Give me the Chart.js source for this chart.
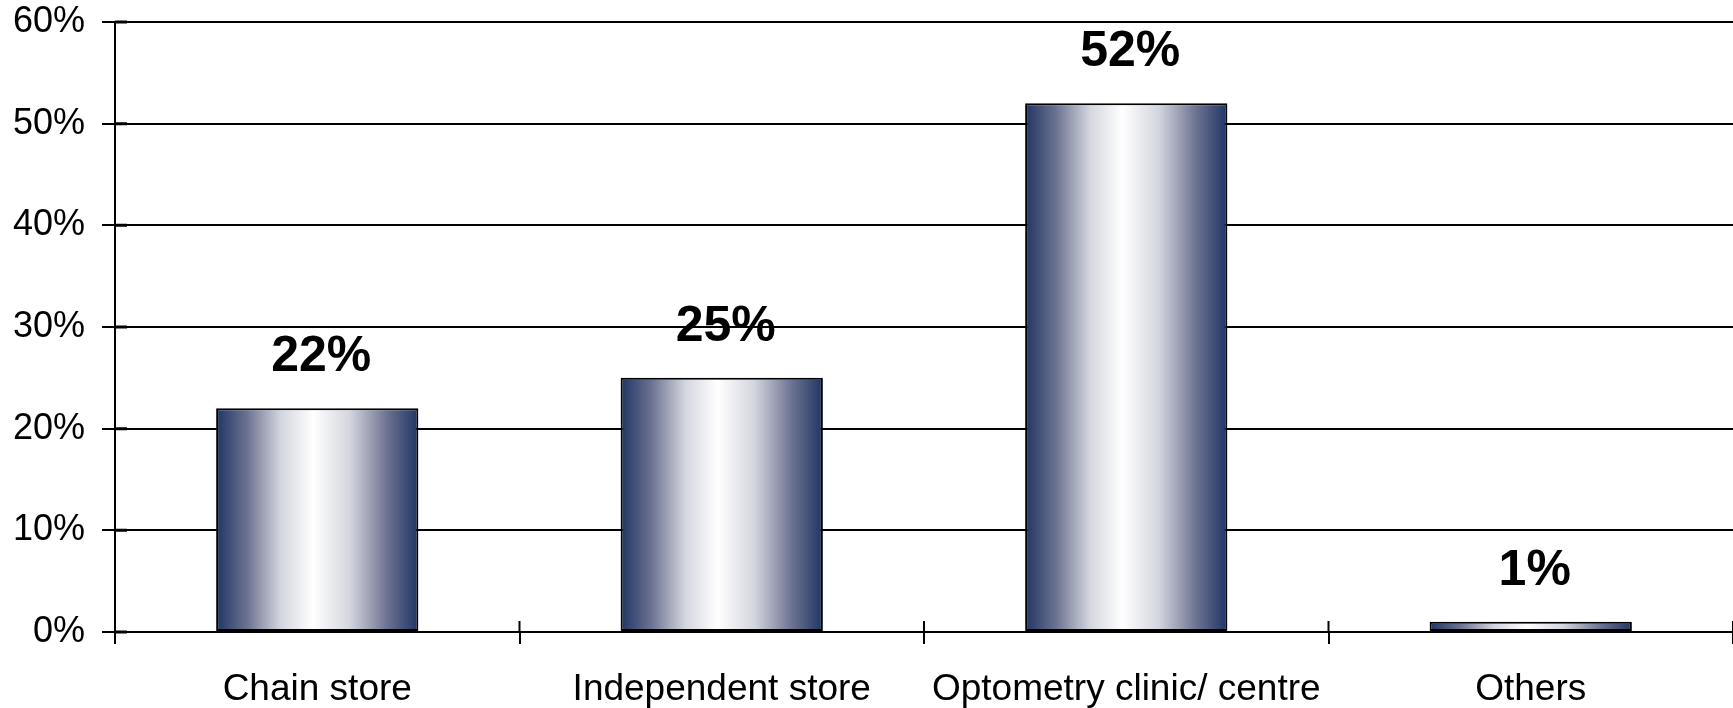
<!DOCTYPE html>
<html>
<head>
<meta charset="utf-8">
<script src="https://cdn.jsdelivr.net/npm/chart.js@4.4.1/dist/chart.umd.min.js"></script>
<style>
  html, body { margin: 0; padding: 0; background: #fff; }
  #wrap { width: 1733px; height: 708px; }
</style>
</head>
<body>
<div id="wrap"><canvas id="channelChart"></canvas></div>
<script>
const categories = ["Chain store", "Independent store", "Optometry clinic/ centre", "Others"];
const shares = [22, 25, 52, 1];
const yTicks = [0, 10, 20, 30, 40, 50, 60];

const barDark = "#1f3564";

// bar gradient, built for each bar from the x scale
function barFill(ctx) {
    const chart = ctx.chart;
    if (!chart.chartArea) return barDark;
    const xs = chart.scales.x;
    const cx = xs.getPixelForValue(ctx.dataIndex);
    const half = xs.width / categories.length * 0.25;
    const g = chart.ctx.createLinearGradient(cx - half, 0, cx + half, 0);
    g.addColorStop(0, barDark);
    g.addColorStop(0.15, "#6a7190");
    g.addColorStop(0.32, "#d4d6de");
    g.addColorStop(0.48, "#ffffff");
    g.addColorStop(0.66, "#d4d6de");
    g.addColorStop(0.85, "#6a7190");
    g.addColorStop(1, barDark);
    return g;
}

// value labels above the bars
const valueLabels = {
    id: "valueLabels",
    afterDatasetsDraw(chart) {
        const c = chart.ctx;
        const meta = chart.getDatasetMeta(0);
        c.save();
        c.font = "bold 50px 'Liberation Sans', Arial, sans-serif";
        c.fillStyle = "#000";
        c.textAlign = "center";
        c.textBaseline = "alphabetic";
        meta.data.forEach((bar, i) => {
            c.fillText(shares[i] + "%", bar.x + 4, bar.y - 37);
        });
        c.restore();
    }
};

// tick marks that cross the axes (Chart.js only draws the outer half)
const crossTicks = {
    id: "crossTicks",
    afterDraw(chart) {
        const c = chart.ctx;
        const xs = chart.scales.x;
        const ys = chart.scales.y;
        const y0 = ys.getPixelForValue(0);
        const x0 = xs.left;
        c.save();
        c.strokeStyle = "#000";
        c.lineWidth = 2;
        c.beginPath();
        for (let i = 0; i <= categories.length; i++) {
            const x = xs.getPixelForValue(i - 0.5);
            c.moveTo(x, y0);
            c.lineTo(x, y0 - 11);
        }
        c.stroke();
        c.lineWidth = 3;
        c.beginPath();
        yTicks.forEach(v => {
            const y = ys.getPixelForValue(v);
            c.moveTo(x0, y);
            c.lineTo(x0 + 12, y);
        });
        c.stroke();
        c.restore();
    }
};

new Chart(document.getElementById("channelChart").getContext("2d"), {
    type: "bar",
    data: {
        labels: categories,
        datasets: [{
            data: shares,
            backgroundColor: barFill,
            borderColor: "#000",
            borderWidth: 2,
            borderSkipped: false,
            barPercentage: 0.5,
            categoryPercentage: 1.0
        }]
    },
    options: {
        responsive: true,
        maintainAspectRatio: false,
        animation: false,
        layout: { padding: { top: 22, right: 0, left: 0, bottom: 0 } },
        plugins: {
            legend: { display: false },
            tooltip: { enabled: false }
        },
        scales: {
            x: {
                grid: {
                    offset: true,
                    drawOnChartArea: false,
                    drawTicks: true,
                    tickLength: 12,
                    color: "#000",
                    lineWidth: 2
                },
                border: { color: "#000", width: 2 },
                ticks: {
                    color: "#000",
                    autoSkip: false,
                    maxRotation: 0,
                    padding: 24,
                    font: { family: "'Liberation Sans', Arial, sans-serif", size: 37 }
                },
                afterFit(scale) {
                    scale.height = 76;
                    scale.paddingLeft = 0;
                    scale.paddingRight = 0;
                }
            },
            y: {
                min: 0,
                max: 60,
                afterBuildTicks(scale) {
                    scale.ticks = yTicks.map(v => ({ value: v }));
                },
                grid: {
                    color: "#000",
                    lineWidth: 2,
                    tickLength: 13
                },
                border: { color: "#000", width: 2 },
                ticks: {
                    color: "#000",
                    padding: 17,
                    callback: v => v + "%",
                    font: { family: "'Liberation Sans', Arial, sans-serif", size: 36 }
                },
                afterFit(scale) {
                    scale.width = 115;
                    scale.paddingTop = 0;
                    scale.paddingBottom = 0;
                }
            }
        }
    },
    plugins: [valueLabels, crossTicks]
});
</script>
</body>
</html>
